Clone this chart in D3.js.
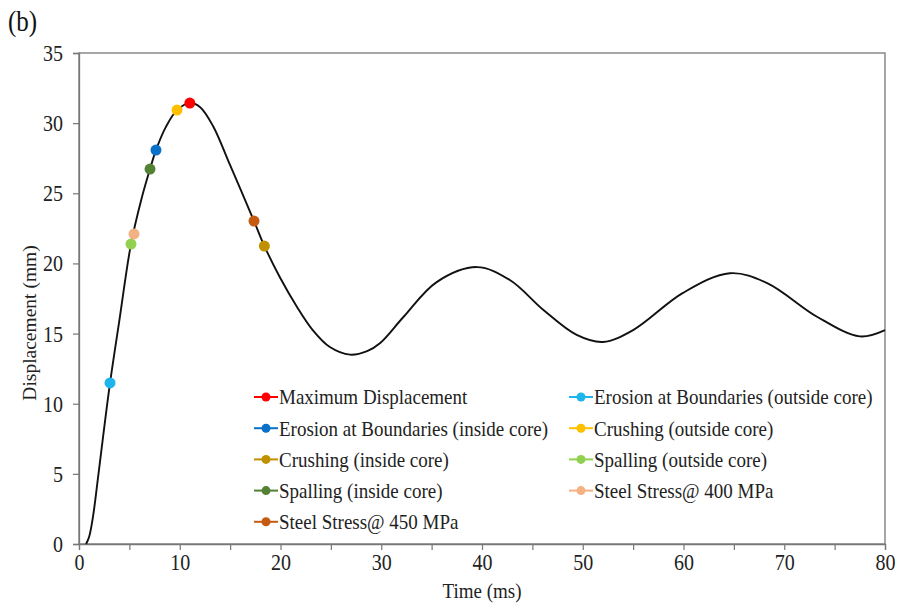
<!DOCTYPE html>
<html><head><meta charset="utf-8">
<script src="https://cdn.jsdelivr.net/npm/d3@7"></script>
<style>body{margin:0;background:#fff}svg{display:block}</style>
</head><body>
<svg id="c" width="899" height="608"></svg>
<script>
// curve data (time ms, displacement mm)
const curveT = [0.7,1.0,1.4,1.9,2.4,3.08,4.0,5.16,6.2,7.05,7.64,8.6,9.73,11.0,12.0,13.3,15.0,17.37,18.4,19.95,21.64,23.2,24.9,26.9,28.6,29.9,32.2,35.5,39.5,42.8,46.1,49.4,52.0,55.0,59.95,64.6,68.3,73.25,77.5,80];
const curveD = [0,0.5,2.0,4.8,7.7,11.48,15.9,21.38,24.6,26.73,28.08,29.7,30.93,31.43,31.15,29.8,27.0,23.02,21.24,19.0,16.9,15.25,14.04,13.5,13.75,14.33,16.18,18.67,19.74,18.8,16.68,14.9,14.4,15.25,17.9,19.3,18.6,16.2,14.8,15.25];
// event markers
const eventNames = ["Maximum Displacement","Erosion at Boundaries (outside core)","Erosion at Boundaries (inside core)","Crushing (outside core)","Crushing (inside core)","Spalling (outside core)","Spalling (inside core)","Steel Stress@ 400 MPa","Steel Stress@ 450 MPa"];
const eventT = [11.0,3.08,7.64,9.73,18.4,5.16,7.05,5.46,17.37];
const eventD = [31.43,11.48,28.08,30.93,21.24,21.38,26.73,22.1,23.02];
const eventColors = ["#FF0000","#1EB4EC","#0A70C8","#FFC000","#BF9000","#92D050","#548235","#F4B183","#C55A11"];
const xTicks = [0,10,20,30,40,50,60,70,80];
const yTicks = [0,5,10,15,20,25,30,35];

const FONT = '"Liberation Serif","Times New Roman",serif';
const K = 1.15; // vertical stretch of text in the reference
const svg = d3.select("#c");
const L=79,R=885,T=53,B=544;
const x = d3.scaleLinear().domain([0,80]).range([L,R]);
const y = d3.scaleLinear().domain([0,35]).range([B,T]);
const axisCol="#777";

// frame
svg.append("rect").attr("x",L).attr("y",T).attr("width",R-L).attr("height",B-T)
  .attr("fill","none").attr("stroke",axisCol).attr("stroke-width",1.3);

// x axis
const xa = svg.append("g").attr("transform",`translate(0,${B})`)
  .call(d3.axisBottom(x).tickValues(d3.range(0,81,5)).tickSize(6).tickFormat(d=>xTicks.includes(d)?d:""));
xa.attr("font-family",null);
xa.select(".domain").attr("stroke",axisCol).attr("stroke-width",1.3);
xa.selectAll(".tick line").attr("stroke",axisCol).attr("stroke-width",1.2);
xa.selectAll(".tick text").style("font-family",FONT).style("font-size","20px").attr("fill","#222")
  .attr("y",0).attr("dy",null).attr("transform",`translate(0,19) scale(1,${K})`).attr("dominant-baseline","central");

// y axis
const ya = svg.append("g").attr("transform",`translate(${L},0)`)
  .call(d3.axisLeft(y).tickValues(yTicks).tickSize(6).tickPadding(8));
ya.attr("font-family",null);
ya.select(".domain").attr("stroke",axisCol).attr("stroke-width",1.3);
ya.selectAll(".tick line").attr("stroke",axisCol).attr("stroke-width",1.2);
ya.selectAll(".tick text").style("font-family",FONT).style("font-size","20px").attr("fill","#222")
  .attr("x",0).attr("dy",null).attr("transform",`translate(-16,0) scale(1,${K})`).attr("dominant-baseline","central");

// titles
svg.append("text").attr("transform",`translate(482,598) scale(1,${K})`).attr("text-anchor","middle")
  .style("font-family",FONT).style("font-size","19px").attr("fill","#222").text("Time (ms)");
svg.append("text").attr("transform",`translate(36,323) rotate(-90)`).attr("text-anchor","middle")
  .style("font-family",FONT).style("font-size","19.5px").attr("fill","#222").text("Displacement (mm)");
svg.append("text").attr("transform",`translate(8,31) scale(1,${K})`)
  .style("font-family",FONT).style("font-size","25px").attr("fill","#111").text("(b)");

// curve
const pts = curveT.map((t,i)=>[t,curveD[i]]);
svg.append("path").datum(pts).attr("fill","none").attr("stroke","#111").attr("stroke-width",1.9)
  .attr("d",d3.line().x(d=>x(d[0])).y(d=>y(d[1])).curve(d3.curveCatmullRom.alpha(0.5)));

// markers
svg.selectAll("circle.ev").data(eventNames).join("circle").attr("class","ev")
  .attr("cx",(d,i)=>x(eventT[i])).attr("cy",(d,i)=>y(eventD[i])).attr("r",5.5)
  .attr("fill",(d,i)=>eventColors[i]);

// legend
const lg = svg.append("g");
eventNames.forEach((n,i)=>{
  const col=i%2, row=Math.floor(i/2);
  const lx = col===0?254:569, ly = 397+row*31.2;
  const g = lg.append("g").attr("transform",`translate(${lx},${ly})`);
  g.append("line").attr("x1",0).attr("x2",24).attr("y1",0).attr("y2",0).attr("stroke",eventColors[i]).attr("stroke-width",2);
  g.append("circle").attr("cx",12).attr("cy",0).attr("r",4.5).attr("fill",eventColors[i]);
  g.append("text").attr("transform",`translate(25,0) scale(1,${K})`).attr("dominant-baseline","central")
    .style("font-family",FONT).style("font-size","19px").attr("fill","#222").text(n);
});
</script>
</body></html>
